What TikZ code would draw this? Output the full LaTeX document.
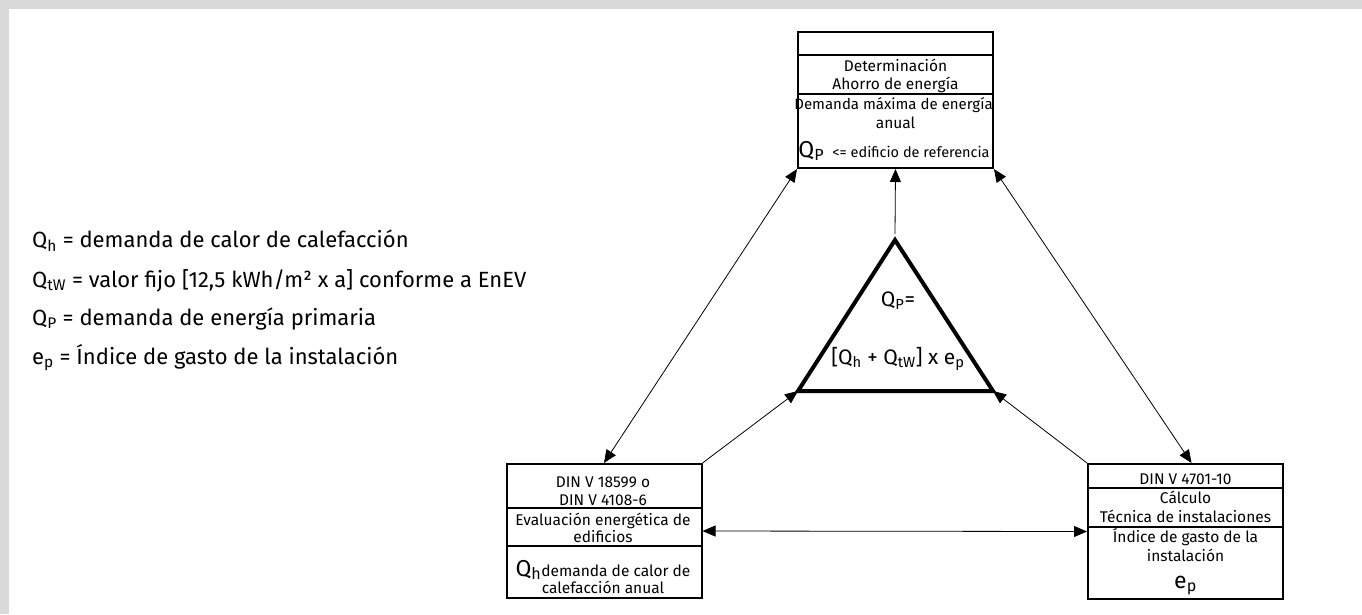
\documentclass[tikz,border=0pt]{standalone}
\usepackage{fontspec}
\setmainfont{Fira Sans}
\usetikzlibrary{arrows.meta}
\definecolor{bandgray}{HTML}{D9D9D9}
\newcommand{\sbs}[1]{\textsubscript{#1}}
\tikzset{
  box/.style={draw, line width=2pt, minimum width=195pt, inner sep=0pt},
  sep/.style={line width=1.3pt},
  bt/.style={font=\fontsize{15.5}{17}\selectfont, anchor=base, inner sep=0pt},
  lg/.style={font=\fontsize{22}{23}\selectfont, anchor=base west, inner sep=0pt},
  fm/.style={font=\fontsize{21}{23}\selectfont, anchor=base, inner sep=0pt},
  tri/.style={line width=4pt, line join=miter},
  conn/.style={line width=0.8pt},
  tip/.style={-{Triangle[length=13pt,width=11pt]}},
  dtip/.style={{Triangle[length=13pt,width=11pt]}-{Triangle[length=13pt,width=11pt]}},
}
\begin{document}
\begin{tikzpicture}[x=1pt,y=-1pt]
\useasboundingbox (0,0) rectangle (1362,614);
\fill[bandgray] (0,0) rectangle (1362,8.7);
\fill[bandgray] (0,0) rectangle (8.7,614);

% legend
\node[lg] (l1) at (32,247) {Q\sbs{h} = demanda de calor de calefacción};
\node[lg] (l2) at (32,287) {Q\sbs{tW} = valor fijo [12,5 kWh/m² x a] conforme a EnEV};
\node[lg] (l3) at (32,325) {Q\sbs{P} = demanda de energía primaria};
\node[lg] (l4) at (32,364) {e\sbs{p} = Índice de gasto de la instalación};

% top box
\node[box, minimum height=136pt] (top) at (895.5,100) {};
\draw[sep] (798,55) -- (993,55);
\draw[sep] (798,94) -- (993,94);
\node[bt] (t1) at (895.5,71) {Determinación};
\node[bt] (t2) at (895.5,89) {Ahorro de energía};
\node[bt, font=\fontsize{15}{17}\selectfont] (t3) at (893.5,109) {Demanda máxima de energía};
\node[bt] (t4) at (895.5,128) {anual};
\node[bt] (t5) at (894,157) {{\fontsize{23}{25}\selectfont Q\textsubscript{P}}\ \ {\fontsize{14.5}{16}\selectfont <= edificio de referencia}};

% bottom-left box
\node[box, minimum height=134pt] (bl) at (604,531) {};
\draw[sep] (507,508) -- (701,508);
\draw[sep] (507,546) -- (701,546);
\node[bt] (b1) at (603,487) {DIN V 18599 o};
\node[bt] (b2) at (603,505) {DIN V 4108-6};
\node[bt] (b3) at (603,525) {Evaluación energética de};
\node[bt] (b4) at (603,542) {edificios};
\node[bt] (b5) at (603,576) {{\fontsize{23}{25}\selectfont Q\textsubscript{h}}demanda de calor de};
\node[bt] (b6) at (603,593) {calefacción anual};

% bottom-right box
\node[box, minimum height=135pt] (br) at (1185.5,531.5) {};
\draw[sep] (1088,488) -- (1283,488);
\draw[sep] (1088,527) -- (1283,527);
\node[bt] (r1) at (1185.5,484) {DIN V 4701-10};
\node[bt] (r2) at (1185.5,503) {Cálculo};
\node[bt] (r3) at (1185.5,522) {Técnica de instalaciones};
\node[bt] (r4) at (1185.5,542) {Índice de gasto de la};
\node[bt] (r5) at (1185.5,561) {instalación};
\node[bt] (r6) at (1185.5,588) {{\fontsize{23}{25}\selectfont e\textsubscript{p}}};

% triangle
\coordinate (A) at (895,240);
\coordinate (B) at (798,391);
\coordinate (C) at (993,391);
\draw[tri] (A) -- (B) -- (C) -- cycle;
\node[fm] (f1) at (898,306) {Q\textsubscript{P}=};
\node[fm] (f2) at (898,364) {[Q\textsubscript{h} + Q\textsubscript{tW}] x e\textsubscript{p}};

% connectors
\coordinate (Aup) at (895,234);
\draw[conn, tip] (Aup) -- (top.south);
\draw[conn, dtip] (top.south west) -- (bl.north);
\draw[conn, dtip] (top.south east) -- ([xshift=6pt]br.north);
\draw[conn, tip] (bl.north east) -- (B);
\draw[conn, tip] (br.north west) -- (C);
\draw[conn, dtip] (bl.east) -- (br.west);
\end{tikzpicture}
\end{document}
